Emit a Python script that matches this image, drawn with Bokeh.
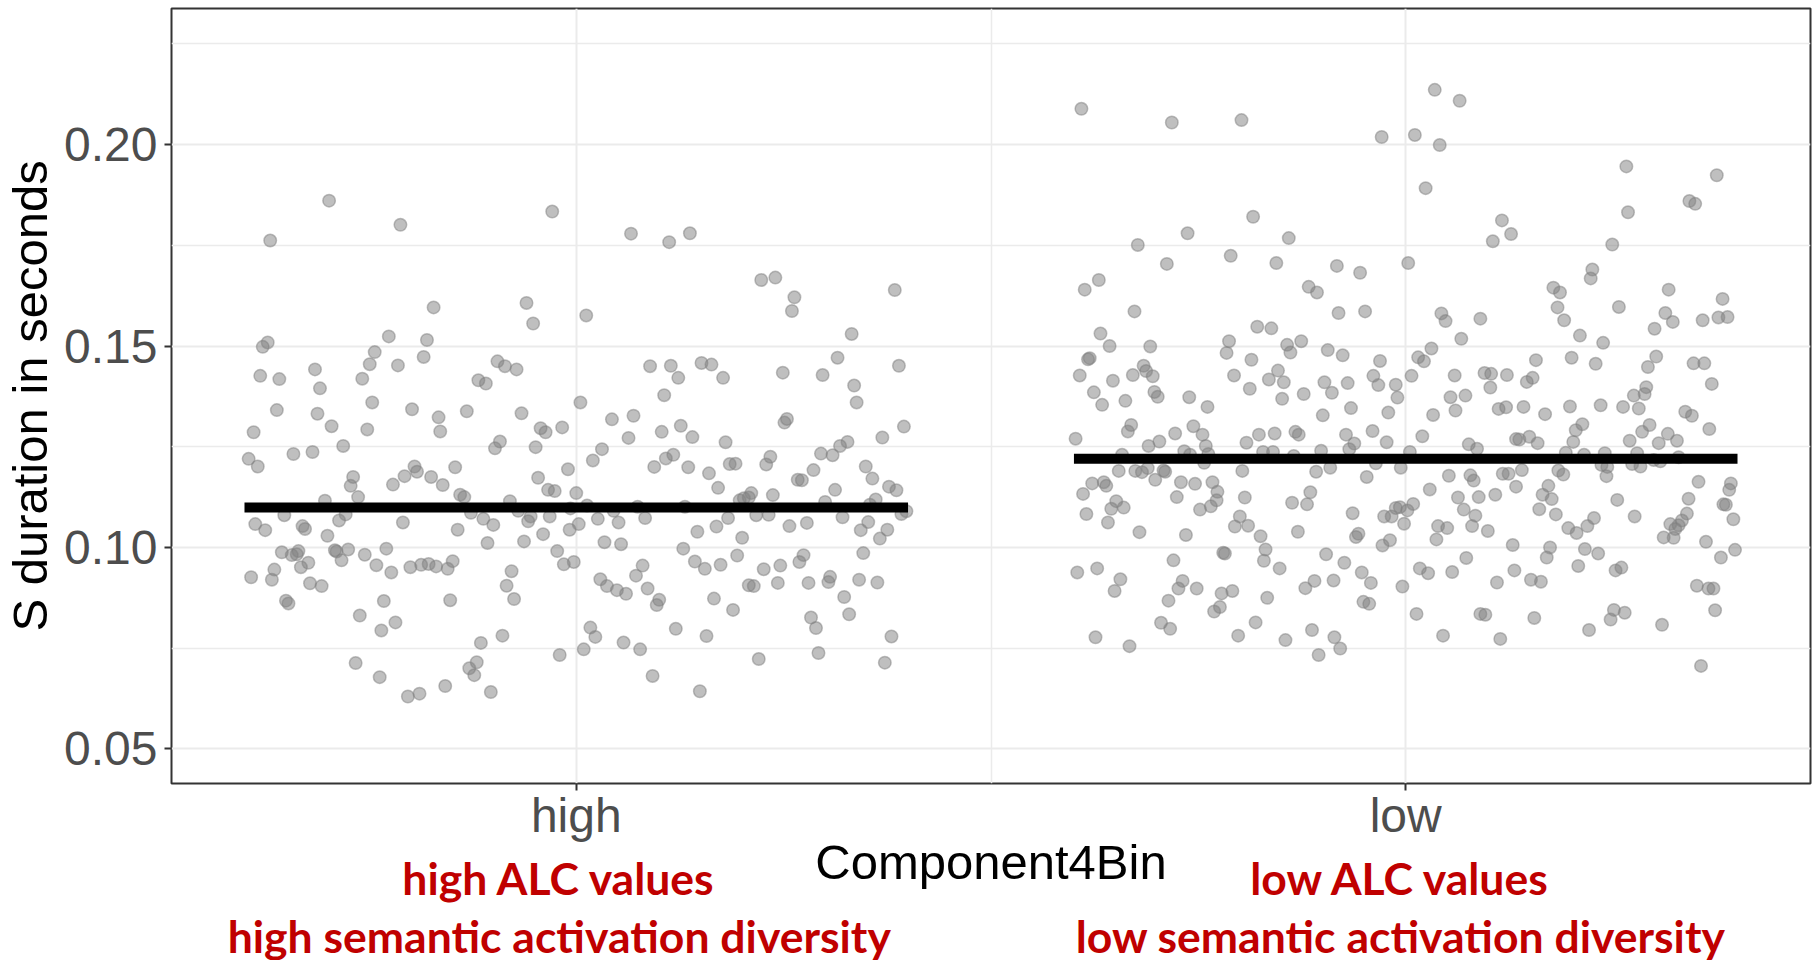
from bokeh.plotting import figure
from bokeh.models import Range1d, FixedTicker, NumeralTickFormatter, LinearAxis, ColumnDataSource
from bokeh.embed import file_html
from bokeh.resources import INLINE

# ---------------- data ----------------
categories = ["high", "low"]
group_means = [0.1099, 0.1220]

high_jitter = [
    -0.298, -0.029, -0.212, -0.369, -0.172, -0.060, -0.052, -0.226, -0.180, -0.372,
    -0.378, -0.243, -0.184, -0.249, -0.215, -0.095, -0.086, -0.072, -0.381, -0.358,
    -0.315, -0.258, -0.118, -0.109, -0.309, -0.246, -0.361, -0.198, -0.132, -0.312,
    -0.166, -0.066, -0.389, -0.295, -0.252, -0.164, -0.043, -0.037, -0.017, -0.281,
    -0.341, -0.318, -0.092, -0.098, -0.049, -0.395, -0.384, -0.195, -0.192, -0.207,
    -0.146, -0.269, -0.272, -0.175, -0.161, -0.221, -0.046, -0.034, -0.026, -0.263,
    -0.303, -0.140, -0.135, -0.080, -0.352, -0.278, -0.286, -0.127, -0.112, -0.100,
    -0.070, -0.055, -0.058, -0.032, -0.387, -0.375, -0.330, -0.327, -0.209, -0.143,
    -0.300, -0.040, -0.355, -0.343, -0.337, -0.335, -0.323, -0.332, -0.291, -0.289,
    -0.283, -0.275, -0.255, -0.241, -0.229, -0.223, -0.200, -0.187, -0.178, -0.169,
    -0.155, -0.149, -0.107, -0.063, -0.023, -0.015, -0.392, -0.364, -0.367, -0.321,
    -0.307, -0.350, -0.347, -0.078, -0.084, -0.075, -0.232, -0.152, -0.261, -0.235,
    -0.218, -0.115, -0.089, -0.020, -0.266, -0.237, -0.203, -0.189, -0.158, -0.129,
    -0.120, -0.123, -0.103,
    0.066, 0.112, 0.137, 0.223, 0.240, 0.263, 0.260, 0.384, 0.012, 0.332,
    0.315, 0.389, 0.249, 0.297, 0.335, 0.338, 0.089, 0.114, 0.123, 0.151,
    0.163, 0.177, 0.106, 0.005, 0.043, 0.069, 0.103, 0.126, 0.140, 0.063,
    0.180, 0.251, 0.254, 0.395, 0.369, 0.327, 0.318, 0.309, 0.295, 0.031,
    0.020, 0.108, 0.117, 0.094, 0.135, 0.160, 0.185, 0.192, 0.229, 0.234,
    0.286, 0.267, 0.272, 0.349, 0.357, 0.377, 0.386, -0.010, 0.000, 0.171,
    0.237, 0.211, 0.202, 0.197, 0.208, 0.312, 0.300, 0.361, 0.354, -0.007,
    0.013, 0.045, 0.074, 0.131, 0.392, 0.398, 0.026, 0.051, 0.083, 0.183,
    0.217, 0.232, 0.321, -0.008, 0.003, 0.146, 0.169, 0.200, 0.257, 0.278,
    0.343, 0.352, 0.375, 0.366, 0.034, 0.054, 0.129, 0.194, 0.274, 0.269,
    0.346, -0.003, 0.080, 0.072, 0.143, 0.155, 0.174, 0.226, 0.246, 0.029,
    0.037, 0.049, 0.060, 0.086, 0.100, 0.097, 0.208, 0.214, 0.243, 0.280,
    0.304, 0.306, 0.341, 0.363, 0.323, 0.166, 0.189, 0.283, 0.289, 0.329,
    0.017, 0.023, 0.057, 0.077, 0.009, 0.120, 0.157, 0.380, 0.220, 0.292,
    0.372, 0.092, 0.149,
]
high_values = [
    0.1861, 0.1834, 0.1801, 0.1762, 0.1596, 0.1607, 0.1556, 0.1524, 0.1515, 0.1509,
    0.1498, 0.1485, 0.1473, 0.1455, 0.1452, 0.1462, 0.1450, 0.1442, 0.1426, 0.1418,
    0.1442, 0.1419, 0.1415, 0.1407, 0.1395, 0.1360, 0.1341, 0.1343, 0.1338, 0.1332,
    0.1323, 0.1333, 0.1286, 0.1301, 0.1293, 0.1288, 0.1296, 0.1286, 0.1298, 0.1252,
    0.1232, 0.1237, 0.1263, 0.1246, 0.1249, 0.1220, 0.1201, 0.1201, 0.1188, 0.1177,
    0.1199, 0.1175, 0.1153, 0.1175, 0.1155, 0.1156, 0.1173, 0.1143, 0.1140, 0.1125,
    0.1116, 0.1131, 0.1125, 0.1115, 0.1080, 0.1082, 0.1067, 0.1086, 0.1071, 0.1056,
    0.1091, 0.1077, 0.1065, 0.1077, 0.1058, 0.1043, 0.1053, 0.1046, 0.1062, 0.1044,
    0.1029, 0.1033, 0.0988, 0.0981, 0.0983, 0.0991, 0.0962, 0.0951, 0.0993, 0.0990,
    0.0968, 0.0995, 0.0982, 0.0956, 0.0997, 0.0938, 0.0951, 0.0957, 0.0959, 0.0953,
    0.0947, 0.0966, 0.1011, 0.1015, 0.0991, 0.0958, 0.0926, 0.0945, 0.0920, 0.0911,
    0.0904, 0.0868, 0.0861, 0.0941, 0.0905, 0.0872, 0.0867, 0.0869, 0.0831, 0.0794,
    0.0814, 0.0763, 0.0781, 0.0733, 0.0713, 0.0678, 0.0630, 0.0637, 0.0656, 0.0700,
    0.0715, 0.0683, 0.0641,
    0.1779, 0.1758, 0.1780, 0.1664, 0.1670, 0.1621, 0.1587, 0.1639, 0.1576, 0.1530,
    0.1471, 0.1451, 0.1434, 0.1428, 0.1402, 0.1360, 0.1450, 0.1451, 0.1421, 0.1458,
    0.1454, 0.1421, 0.1378, 0.1360, 0.1318, 0.1327, 0.1287, 0.1302, 0.1274, 0.1272,
    0.1261, 0.1310, 0.1319, 0.1300, 0.1273, 0.1262, 0.1252, 0.1229, 0.1233, 0.1244,
    0.1216, 0.1221, 0.1230, 0.1200, 0.1199, 0.1184, 0.1207, 0.1208, 0.1206, 0.1225,
    0.1192, 0.1168, 0.1167, 0.1201, 0.1171, 0.1151, 0.1142, 0.1194, 0.1135, 0.1148,
    0.1130, 0.1135, 0.1122, 0.1117, 0.1124, 0.1143, 0.1113, 0.1119, 0.1106, 0.1097,
    0.1104, 0.1091, 0.1101, 0.1101, 0.1083, 0.1090, 0.1071, 0.1062, 0.1073, 0.1073,
    0.1080, 0.1081, 0.1075, 0.1044, 0.1058, 0.1039, 0.1052, 0.1024, 0.1053, 0.1061,
    0.1043, 0.1063, 0.1044, 0.1022, 0.1013, 0.1008, 0.0997, 0.0980, 0.0981, 0.0964,
    0.0986, 0.0964, 0.0955, 0.0930, 0.0965, 0.0947, 0.0957, 0.0946, 0.0955, 0.0921,
    0.0904, 0.0894, 0.0885, 0.0898, 0.0870, 0.0857, 0.0906, 0.0904, 0.0912, 0.0912,
    0.0914, 0.0927, 0.0920, 0.0913, 0.0877, 0.0873, 0.0845, 0.0826, 0.0800, 0.0834,
    0.0801, 0.0778, 0.0764, 0.0747, 0.0747, 0.0798, 0.0780, 0.0779, 0.0723, 0.0738,
    0.0714, 0.0681, 0.0643,
]

low_jitter = [
    -0.391, -0.282, -0.198, -0.029, -0.184, -0.263, -0.141, -0.323, -0.211, -0.288,
    -0.156, -0.083, -0.055, -0.370, -0.387, -0.117, -0.107, -0.327, -0.081, -0.049,
    -0.179, -0.162, -0.368, -0.357, -0.308, -0.213, -0.216, -0.143, -0.139, -0.126,
    -0.094, -0.076, -0.381, -0.383, -0.031, -0.186, -0.393, -0.329, -0.316, -0.313,
    -0.305, -0.353, -0.207, -0.165, -0.154, -0.147, -0.039, -0.033, -0.012, -0.376,
    -0.366, -0.338, -0.303, -0.299, -0.261, -0.239, -0.188, -0.149, -0.123, -0.098,
    -0.089, -0.070, -0.010, -0.066, -0.021, -0.100, -0.398, -0.335, -0.331, -0.278,
    -0.256, -0.245, -0.241, -0.177, -0.158, -0.133, -0.129, -0.192, -0.040, -0.023,
    -0.072, -0.062, -0.310, -0.297, -0.342, -0.267, -0.260, -0.238, -0.172, -0.160,
    -0.135, -0.102, -0.068, -0.346, -0.326, -0.318, -0.311, -0.292, -0.290, -0.243,
    -0.197, -0.108, -0.091, -0.036, -0.006, -0.378, -0.364, -0.361, -0.302, -0.271,
    -0.254, -0.233, -0.227, -0.047, -0.389, -0.276, -0.228, -0.235, -0.248, -0.194,
    -0.115, -0.137, -0.119, -0.349, -0.355, -0.340, -0.385, -0.359, -0.064, -0.026,
    -0.017, -0.012, -0.007, -0.002, -0.200, -0.206, -0.190, -0.175, -0.130, -0.321,
    -0.265, -0.060, -0.057, -0.169, -0.171, -0.220, -0.218, -0.096, -0.028, -0.019,
    -0.396, -0.372, -0.344, -0.351, -0.280, -0.269, -0.274, -0.252, -0.222, -0.209,
    -0.152, -0.167, -0.074, -0.053, -0.042, -0.110, -0.087, -0.121, -0.004, -0.286,
    -0.224, -0.231, -0.051, -0.044, -0.295, -0.284, -0.181, -0.374, -0.333, -0.202,
    -0.145, -0.113, -0.086, -0.079, -0.105,
    0.035, 0.065, 0.011, 0.041, 0.024, 0.266, 0.375, 0.268, 0.342, 0.349,
    0.116, 0.127, 0.105, 0.249, 0.003, 0.225, 0.223, 0.178, 0.186, 0.317,
    0.382, 0.183, 0.257, 0.043, 0.048, 0.090, 0.191, 0.313, 0.322, 0.300,
    0.358, 0.377, 0.388, 0.067, 0.210, 0.238, 0.031, 0.015, 0.022, 0.157,
    0.200, 0.229, 0.302, 0.292, 0.347, 0.360, 0.007, 0.059, 0.095, 0.103,
    0.122, 0.102, 0.146, 0.153, 0.290, 0.288, 0.275, 0.369, 0.054, 0.072,
    0.033, 0.060, 0.112, 0.121, 0.142, 0.168, 0.198, 0.235, 0.262, 0.281,
    0.337, 0.345, 0.020, 0.076, 0.086, 0.133, 0.137, 0.149, 0.159, 0.193,
    0.202, 0.205, 0.213, 0.270, 0.285, 0.294, 0.305, 0.316, 0.327, 0.366,
    0.005, 0.215, 0.240, 0.279, 0.329, 0.052, 0.078, 0.082, 0.117, 0.124,
    0.140, 0.184, 0.190, 0.236, 0.243, 0.242, 0.273, 0.283, 0.299, 0.307,
    0.029, 0.133, 0.172, 0.165, 0.176, 0.255, 0.353, 0.341, 0.392, 0.390,
    0.383, 0.386, 0.002, 0.009, 0.063, 0.088, 0.108, 0.070, 0.084, 0.161,
    0.181, 0.227, 0.219, 0.196, 0.206, 0.276, 0.339, 0.333, 0.329, 0.319,
    0.325, 0.311, 0.323, 0.395, 0.039, 0.050, 0.080, 0.037, 0.099, 0.129,
    0.174, 0.170, 0.216, 0.232, 0.073, 0.362, 0.380, 0.397, 0.017, 0.027,
    0.056, 0.110, 0.131, 0.151, 0.163, 0.208, 0.253, 0.260, 0.351, 0.365,
    0.371, 0.013, 0.090, 0.096, 0.155, 0.251, 0.247, 0.264, 0.373, 0.309,
    0.045, 0.114, 0.221, 0.356,
]
low_values = [
    0.2089, 0.2055, 0.2061, 0.2019, 0.1821, 0.1780, 0.1768, 0.1751, 0.1724, 0.1704,
    0.1706, 0.1699, 0.1682, 0.1664, 0.1640, 0.1647, 0.1633, 0.1586, 0.1582, 0.1586,
    0.1548, 0.1544, 0.1531, 0.1500, 0.1499, 0.1512, 0.1483, 0.1503, 0.1484, 0.1512,
    0.1490, 0.1477, 0.1470, 0.1467, 0.1463, 0.1466, 0.1427, 0.1428, 0.1451, 0.1438,
    0.1425, 0.1414, 0.1427, 0.1417, 0.1439, 0.1410, 0.1426, 0.1403, 0.1404, 0.1385,
    0.1354, 0.1364, 0.1386, 0.1374, 0.1373, 0.1349, 0.1394, 0.1369, 0.1381, 0.1410,
    0.1384, 0.1408, 0.1372, 0.1346, 0.1335, 0.1328, 0.1270, 0.1288, 0.1304, 0.1283,
    0.1301, 0.1280, 0.1252, 0.1280, 0.1283, 0.1287, 0.1280, 0.1260, 0.1289, 0.1261,
    0.1280, 0.1258, 0.1252, 0.1263, 0.1230, 0.1239, 0.1230, 0.1232, 0.1237, 0.1237,
    0.1227, 0.1240, 0.1244, 0.1190, 0.1190, 0.1187, 0.1197, 0.1191, 0.1188, 0.1210,
    0.1190, 0.1188, 0.1198, 0.1209, 0.1198, 0.1159, 0.1162, 0.1153, 0.1168, 0.1162,
    0.1158, 0.1162, 0.1138, 0.1175, 0.1133, 0.1125, 0.1117, 0.1102, 0.1094, 0.1124,
    0.1137, 0.1111, 0.1107, 0.1115, 0.1096, 0.1099, 0.1083, 0.1062, 0.1085, 0.1077,
    0.1077, 0.1098, 0.1100, 0.1059, 0.1077, 0.1052, 0.1054, 0.1028, 0.1039, 0.1038,
    0.1031, 0.1026, 0.1034, 0.0995, 0.0967, 0.0987, 0.0985, 0.0983, 0.1005, 0.1018,
    0.0938, 0.0948, 0.0921, 0.0892, 0.0968, 0.0917, 0.0898, 0.0898, 0.0886, 0.0892,
    0.0948, 0.0875, 0.0962, 0.0938, 0.0912, 0.0917, 0.0918, 0.0899, 0.0903, 0.0868,
    0.0852, 0.0841, 0.0865, 0.0860, 0.0813, 0.0798, 0.0814, 0.0777, 0.0755, 0.0781,
    0.0770, 0.0795, 0.0777, 0.0749, 0.0733,
    0.2136, 0.2109, 0.2024, 0.1999, 0.1892, 0.1946, 0.1924, 0.1832, 0.1860, 0.1853,
    0.1812, 0.1778, 0.1760, 0.1752, 0.1706, 0.1690, 0.1668, 0.1645, 0.1633, 0.1640,
    0.1617, 0.1596, 0.1597, 0.1581, 0.1562, 0.1568, 0.1564, 0.1582, 0.1560, 0.1543,
    0.1564, 0.1571, 0.1572, 0.1518, 0.1526, 0.1508, 0.1494, 0.1472, 0.1462, 0.1465,
    0.1471, 0.1456, 0.1474, 0.1448, 0.1457, 0.1457, 0.1426, 0.1427, 0.1433, 0.1431,
    0.1428, 0.1397, 0.1411, 0.1421, 0.1398, 0.1381, 0.1377, 0.1406, 0.1373, 0.1377,
    0.1329, 0.1340, 0.1344, 0.1348, 0.1349, 0.1331, 0.1350, 0.1353, 0.1349, 0.1345,
    0.1337, 0.1327, 0.1276, 0.1256, 0.1245, 0.1269, 0.1268, 0.1275, 0.1259, 0.1235,
    0.1262, 0.1291, 0.1306, 0.1265, 0.1287, 0.1304, 0.1259, 0.1282, 0.1265, 0.1294,
    0.1237, 0.1230, 0.1234, 0.1234, 0.1224, 0.1178, 0.1179, 0.1166, 0.1183, 0.1183,
    0.1192, 0.1191, 0.1181, 0.1205, 0.1200, 0.1177, 0.1207, 0.1201, 0.1217, 0.1214,
    0.1144, 0.1151, 0.1153, 0.1131, 0.1120, 0.1118, 0.1163, 0.1121, 0.1159, 0.1143,
    0.1107, 0.1106, 0.1092, 0.1108, 0.1124, 0.1125, 0.1131, 0.1094, 0.1079, 0.1095,
    0.1082, 0.1073, 0.1053, 0.1048, 0.1036, 0.1077, 0.1084, 0.1067, 0.1055, 0.1058,
    0.1046, 0.1025, 0.1024, 0.1070, 0.1053, 0.1048, 0.1053, 0.1020, 0.1041, 0.1006,
    0.1000, 0.0975, 0.0996, 0.0985, 0.0974, 0.1014, 0.0975, 0.0994, 0.0948, 0.0936,
    0.0939, 0.0913, 0.0943, 0.0920, 0.0915, 0.0954, 0.0943, 0.0950, 0.0905, 0.0898,
    0.0898, 0.0835, 0.0835, 0.0833, 0.0825, 0.0845, 0.0821, 0.0838, 0.0844, 0.0808,
    0.0781, 0.0773, 0.0795, 0.0706,
]

y_ticks = [0.05, 0.10, 0.15, 0.20]
y_minor_ticks = [0.075, 0.125, 0.175, 0.225]
x_minor_ticks = [1.5]
annot_line1 = ["high ALC values", "low ALC values"]
annot_line2 = ["high semantic activation diversity", "low semantic activation diversity"]
annot_shift = [-0.0205, -0.006]   # label centres relative to the category, in x units

# ---------------- layout constants ----------------
W, H = 1814, 960
Y0, Y1 = 0.0414, 0.2338
X0, X1 = 0.512, 2.488
MEAN_HALF = 0.4

pos = {c: i + 1 for i, c in enumerate(categories)}
xs = [pos["high"] + j for j in high_jitter] + [pos["low"] + j for j in low_jitter]
ys = high_values + low_values
src = ColumnDataSource(dict(x=xs, y=ys))

p = figure(width=W, height=H, x_range=Range1d(X0, X1), y_range=Range1d(Y0, Y1),
           output_backend="svg", toolbar_location=None,
           min_border_left=170, min_border_right=4,
           min_border_top=8, min_border_bottom=177)
p.background_fill_color = "white"
p.border_fill_color = "white"
p.outline_line_color = "#333333"
p.outline_line_width = 2

for g in (p.xgrid, p.ygrid):
    g.grid_line_color = "#EBEBEB"
    g.grid_line_width = 2
    g.minor_grid_line_color = "#EBEBEB"
    g.minor_grid_line_width = 1.5

main_x = p.xaxis[0]
main_y = p.yaxis[0]
main_x.ticker = FixedTicker(ticks=[pos[c] for c in categories], minor_ticks=x_minor_ticks)
main_x.major_label_overrides = {pos[c]: c for c in categories}
main_y.ticker = FixedTicker(ticks=y_ticks, minor_ticks=y_minor_ticks)
main_y.formatter = NumeralTickFormatter(format="0.00")
p.xgrid.ticker = main_x.ticker
p.ygrid.ticker = main_y.ticker

for ax in (main_x, main_y):
    ax.axis_line_color = None
    ax.major_tick_line_color = "#333333"
    ax.major_tick_line_width = 2
    ax.major_tick_out = 7
    ax.major_tick_in = 0
    ax.minor_tick_line_color = None
    ax.major_label_text_font = "Liberation Sans"
    ax.major_label_text_font_size = "48px"
    ax.major_label_text_color = "#4D4D4D"
    ax.axis_label_text_font = "Liberation Sans"
    ax.axis_label_text_font_size = "49px"
    ax.axis_label_text_font_style = "normal"
    ax.axis_label_text_color = "black"

main_x.major_label_standoff = -2
main_y.axis_label = "S duration in seconds"
main_y.major_label_standoff = 7
main_y.axis_label_standoff = 4

# red explanatory lines as label-only axes below the main axis;
# the x-axis title sits on the last one and is pulled back up between the rows
red_style = dict(axis_line_color=None, major_tick_line_color=None,
                 minor_tick_line_color=None, major_tick_out=0, major_tick_in=0,
                 major_label_text_font="Lato", major_label_text_font_style="bold",
                 major_label_text_font_size="44.5px", major_label_text_color="#C00000")
ticks = [pos[c] + annot_shift[i] for i, c in enumerate(categories)]

ax1 = LinearAxis(ticker=FixedTicker(ticks=ticks, minor_ticks=[]),
                 major_label_overrides={t: s for t, s in zip(ticks, annot_line1)},
                 major_label_standoff=6, **red_style)
ax2 = LinearAxis(ticker=FixedTicker(ticks=ticks, minor_ticks=[]),
                 major_label_overrides={t: s for t, s in zip(ticks, annot_line2)},
                 major_label_standoff=2,
                 axis_label="Component4Bin", axis_label_standoff=-130,
                 axis_label_text_font="Liberation Sans", axis_label_text_font_size="49px",
                 axis_label_text_font_style="normal", axis_label_text_color="black",
                 **red_style)
p.add_layout(ax1, "below")
p.add_layout(ax2, "below")

# points
p.scatter("x", "y", source=src, size=12.5, fill_color="#7F7F7F", fill_alpha=0.5,
          line_color="#7F7F7F", line_alpha=0.5, line_width=1.5)

# mean lines
mx = [pos[c] for c in categories]
p.segment(x0=[m - MEAN_HALF for m in mx], x1=[m + MEAN_HALF for m in mx],
          y0=group_means, y1=group_means, line_width=10, line_color="black", line_cap="butt")

open("out.html", "w").write(file_html(p, INLINE))
